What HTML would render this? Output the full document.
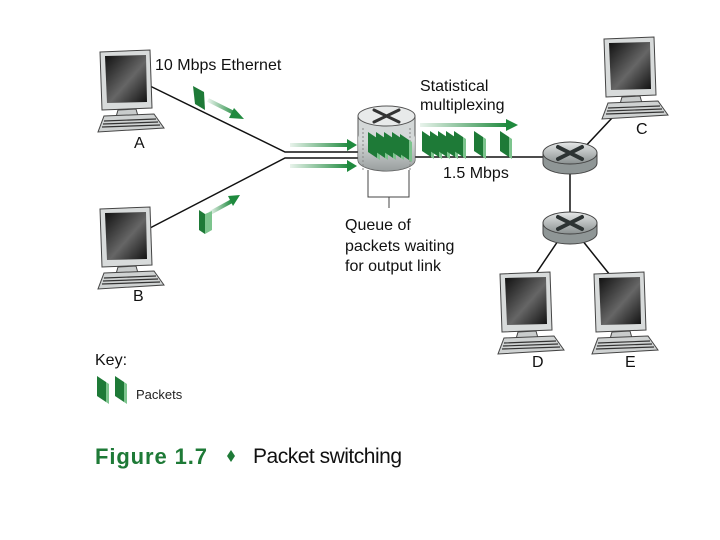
<!DOCTYPE html>
<html><head><style>
html,body{margin:0;padding:0;background:#fff;}
svg{display:block;}
text{font-family:"Liberation Sans",sans-serif;}
</style></head><body>
<svg width="720" height="540" viewBox="0 0 720 540" xmlns="http://www.w3.org/2000/svg">
<defs>
<linearGradient id="scr" x1="0" y1="0" x2="1" y2="1">
<stop offset="0" stop-color="#111"/><stop offset="0.55" stop-color="#666"/><stop offset="1" stop-color="#111"/>
</linearGradient>
<linearGradient id="rt" x1="0" y1="0" x2="0" y2="1">
<stop offset="0" stop-color="#e6e8e8"/><stop offset="1" stop-color="#8a9090"/>
</linearGradient>
<linearGradient id="arr" x1="0" y1="0" x2="1" y2="0">
<stop offset="0" stop-color="#1f8a3e" stop-opacity="0.1"/><stop offset="1" stop-color="#1f8a3e"/>
</linearGradient>
<g id="pc">
<path d="M2,2 L52,0 L54,58 L4,60 Z" fill="#d8dbdb" stroke="#444" stroke-width="1"/>
<path d="M7,6 L48,5 L49,52 L9,53 Z" fill="url(#scr)"/>
<path d="M20,60 L38,59 L40,66 L18,67 Z" fill="#c9cccc" stroke="#444" stroke-width="1"/>
<path d="M6,66 L56,64 L66,78 L0,82 Z" fill="#cfd2d2" stroke="#444" stroke-width="1"/>
<path d="M6,71 L58,69 M5,74 L60,72 M4,77 L62,75" stroke="#333" stroke-width="1.2"/>
</g>
<g id="router">
<path d="M0,0 L0,10 A27,11 0 0 0 54,10 L54,0 Z" fill="#8f9696" stroke="#444"/>
<ellipse cx="27" cy="0" rx="27" ry="11" fill="url(#rt)" stroke="#444"/>
<path d="M15,-6 L39,6 M15,6 L39,-6" stroke="#2d3333" stroke-width="4" stroke-linecap="round"/>
</g>
<g id="pk">
<path d="M0,0 L9,6 L9,26 L0,20 Z" fill="#1e7a37"/>
<path d="M9,6 L12,8 L12,28 L9,26 Z" fill="#7cc48d"/>
</g>
</defs>

<g stroke="#111" stroke-width="1.5" fill="none">
<path d="M150,86 L285,152 L360,152"/>
<path d="M150,228 L285,158 L360,158"/>
<path d="M415,157 L543,157"/>
<path d="M570,165 L570,217"/>
<path d="M582,150 L612,118"/>
<path d="M562,235 L535,275"/>
<path d="M578,235 L610,275"/>
</g>

<use href="#pc" x="98" y="50"/>
<use href="#pc" x="98" y="207"/>
<use href="#pc" x="602" y="37"/>
<use href="#pc" x="498" y="272"/>
<use href="#pc" x="592" y="272"/>

<use href="#router" x="543" y="153"/>
<use href="#router" x="543" y="223"/>

<path d="M358,116 L358,160 A28.5,11 0 0 0 415,160 L415,116 Z" fill="#d4d8d8" stroke="#555"/>
<path d="M358,135 L358,160 A28.5,11 0 0 0 415,160 L415,135 A28.5,11 0 0 1 358,135 Z" fill="url(#rt)" opacity="0.8"/>
<ellipse cx="386.5" cy="116" rx="28.5" ry="10" fill="#e8eaea" stroke="#555"/>
<path d="M374,110 L399,122 M374,122 L399,110" stroke="#333" stroke-width="3" stroke-linecap="round"/>
<line x1="363" y1="128" x2="363" y2="170" stroke="#888" stroke-dasharray="2,2"/>
<line x1="410" y1="128" x2="410" y2="170" stroke="#888" stroke-dasharray="2,2"/>
<use href="#pk" x="368" y="132"/>
<use href="#pk" x="376" y="132"/>
<use href="#pk" x="384" y="132"/>
<use href="#pk" x="392" y="132"/>
<use href="#pk" x="400" y="134"/>

<path d="M368,170 L368,197 L409,197 L409,170 M389,197 L389,208" stroke="#444" fill="none"/>

<use href="#pk" x="422" y="131"/>
<use href="#pk" x="430" y="131"/>
<use href="#pk" x="438" y="131"/>
<use href="#pk" x="446" y="131"/>
<use href="#pk" x="454" y="131"/>
<use href="#pk" x="474" y="131"/>
<use href="#pk" x="500" y="131"/>

<g fill="#1f8a3e">
<rect x="420" y="123" width="88" height="4" fill="url(#arr)"/><path d="M506,119 L518,125 L506,131 Z"/>
<rect x="290" y="143" width="60" height="4" fill="url(#arr)"/><path d="M347,139 L357,145 L347,151 Z"/>
<rect x="290" y="164" width="60" height="4" fill="url(#arr)"/><path d="M347,160 L357,166 L347,172 Z"/>
</g>
<path d="M208,100 L236,114" stroke="url(#arr)" stroke-width="4"/>
<path d="M234,108 L244,119 L229,118 Z" fill="#1f8a3e"/>
<path d="M193,86 L204,92 L205,110 L195,104 Z" fill="#1e7a37"/>
<path d="M210,213 L232,201" stroke="url(#arr)" stroke-width="4"/>
<path d="M228,196 L240,195 L233,206 Z" fill="#1f8a3e"/>
<path d="M199,210 L205,214 L205,234 L199,230 Z" fill="#1e7a37"/>
<path d="M205,214 L212,211 L212,230 L205,234 Z" fill="#7cc48d"/>

<g font-size="16" fill="#111">
<text x="155" y="70">10 Mbps Ethernet</text>
<text x="420" y="91">Statistical</text>
<text x="420" y="110">multiplexing</text>
<text x="443" y="178">1.5 Mbps</text>
<text x="345" y="230">Queue of</text>
<text x="345" y="251">packets waiting</text>
<text x="345" y="271">for output link</text>
<text x="134" y="148">A</text>
<text x="133" y="301">B</text>
<text x="636" y="134">C</text>
<text x="532" y="367">D</text>
<text x="625" y="367">E</text>
<text x="95" y="365">Key:</text>
</g>
<use href="#pk" x="97" y="376"/>
<use href="#pk" x="115" y="376"/>
<text x="136" y="399" font-size="13" fill="#222">Packets</text>
<text x="95" y="464" font-size="22" font-weight="bold" fill="#1e7a37" textLength="112">Figure 1.7</text>
<path d="M231,450 L235,456 L231,462 L227,456 Z" fill="#1e7a37"/>
<text x="253" y="463" font-size="21" fill="#111" textLength="149">Packet switching</text>
</svg>
</body></html>
